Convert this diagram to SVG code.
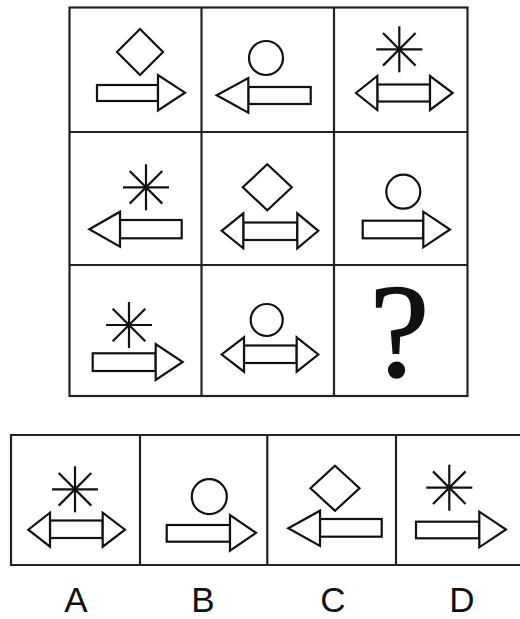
<svg xmlns="http://www.w3.org/2000/svg" xmlns:xlink="http://www.w3.org/1999/xlink" width="520" height="619" viewBox="0 0 520 619">
<style>
.frame{fill:none;stroke:#222;stroke-width:2.2}
.sh{fill:#fff;stroke:#111;stroke-width:2.2;stroke-linejoin:miter}
.ast{stroke:#111;stroke-width:2.2;fill:none}
.lbl{font-family:"Liberation Sans","Open Sans",sans-serif;font-size:35px;fill:#111;text-anchor:middle}
.q{font-family:"Liberation Serif","DejaVu Serif",serif;font-size:134px;fill:#111;stroke:#111;stroke-width:1.6;text-anchor:middle}
</style>
<defs>
<g id="ast">
<line class="ast" x1="0" y1="-23" x2="0" y2="23"/>
<line class="ast" x1="-23" y1="0" x2="23" y2="0"/>
<line class="ast" x1="-16.3" y1="-16.3" x2="16.3" y2="16.3"/>
<line class="ast" x1="-16.3" y1="16.3" x2="16.3" y2="-16.3"/>
</g>
</defs>
<rect fill="#fff" x="0" y="0" width="520" height="619"/>
<g id="grid">
<rect class="frame" x="69.5" y="7.5" width="398" height="388.5"/>
<line class="frame" x1="201.5" y1="7.5" x2="201.5" y2="396"/>
<line class="frame" x1="334" y1="7.5" x2="334" y2="396"/>
<line class="frame" x1="69.5" y1="132" x2="467.5" y2="132"/>
<line class="frame" x1="69.5" y1="265" x2="467.5" y2="265"/>
</g>
<g id="answers-frame">
<path class="frame" d="M525,435 H11 V565 H525"/>
<line class="frame" x1="140" y1="435" x2="140" y2="565"/>
<line class="frame" x1="267.3" y1="435" x2="267.3" y2="565"/>
<line class="frame" x1="396" y1="435" x2="396" y2="565"/>
</g>
<g id="r1c1">
<polygon class="sh" points="140,29 163,52 140,75 117,52"/>
<rect class="sh" x="97" y="85" width="61" height="16"/>
<polygon class="sh" points="158,75 158,110.5 185,92.7"/>
</g>
<g id="r1c2">
<circle class="sh" cx="266" cy="58" r="17"/>
<rect class="sh" x="248.3" y="87" width="62.4" height="17"/>
<polygon class="sh" points="248.3,78 248.3,112.7 216.7,95.3"/>
</g>
<g id="r1c3">
<use xlink:href="#ast" x="399.3" y="49.3"/>
<rect class="sh" x="377.3" y="84.5" width="52.7" height="17"/>
<polygon class="sh" points="377.3,76 377.3,110 356,93"/>
<polygon class="sh" points="430,76 430,110 452.7,93"/>
</g>
<g id="r2c1">
<use xlink:href="#ast" x="146" y="187.3"/>
<rect class="sh" x="120" y="220" width="61.7" height="18.3"/>
<polygon class="sh" points="120,211.7 120,246.7 89.3,229.2"/>
</g>
<g id="r2c2">
<polygon class="sh" points="267.3,164.3 291.8,187.3 267.3,210.3 242.8,187.3"/>
<rect class="sh" x="243.3" y="222.5" width="54" height="17.5"/>
<polygon class="sh" points="243.3,213.3 243.3,248.3 221.7,230.8"/>
<polygon class="sh" points="297.3,213.3 297.3,248.3 318.3,230.8"/>
</g>
<g id="r2c3">
<circle class="sh" cx="403.3" cy="191.7" r="17"/>
<rect class="sh" x="362.7" y="220.7" width="60.6" height="17.6"/>
<polygon class="sh" points="423.3,211.7 423.3,247.3 450,229.5"/>
</g>
<g id="r3c1">
<use xlink:href="#ast" x="129" y="325"/>
<rect class="sh" x="92.7" y="353.3" width="63" height="17.7"/>
<polygon class="sh" points="155.7,344 155.7,380 182.7,362"/>
</g>
<g id="r3c2">
<circle class="sh" cx="266.7" cy="320" r="16"/>
<rect class="sh" x="244" y="345.5" width="52.7" height="17.5"/>
<polygon class="sh" points="244,337.3 244,371.7 221.7,354.5"/>
<polygon class="sh" points="296.7,337.3 296.7,371.7 318.3,354.5"/>
</g>
<g id="r3c3">
<text class="q" x="399.5" y="376">?</text>
</g>
<g id="optA">
<use xlink:href="#ast" x="75" y="489.3"/>
<rect class="sh" x="50" y="520.5" width="52.7" height="17.5"/>
<polygon class="sh" points="50,512.7 50,546.7 28.3,529.7"/>
<polygon class="sh" points="102.7,512.7 102.7,546.7 125,529.7"/>
<text class="lbl" x="76" y="612">A</text>
</g>
<g id="optB">
<circle class="sh" cx="209.3" cy="496.7" r="17.5"/>
<rect class="sh" x="166.7" y="525" width="63.3" height="16.7"/>
<polygon class="sh" points="230,515 230,550.7 256,532.8"/>
<text class="lbl" x="203" y="612">B</text>
</g>
<g id="optC">
<polygon class="sh" points="335,465.8 359.5,488.3 335,510.8 310.5,488.3"/>
<rect class="sh" x="320" y="519" width="61.7" height="17.7"/>
<polygon class="sh" points="320,510.7 320,546 288.3,528.3"/>
<text class="lbl" x="333" y="612">C</text>
</g>
<g id="optD">
<use xlink:href="#ast" x="449.3" y="487.7"/>
<rect class="sh" x="416" y="521.7" width="63.3" height="16.6"/>
<polygon class="sh" points="479.3,511.7 479.3,547.3 506,529.5"/>
<text class="lbl" x="462" y="612">D</text>
</g>
</svg>
